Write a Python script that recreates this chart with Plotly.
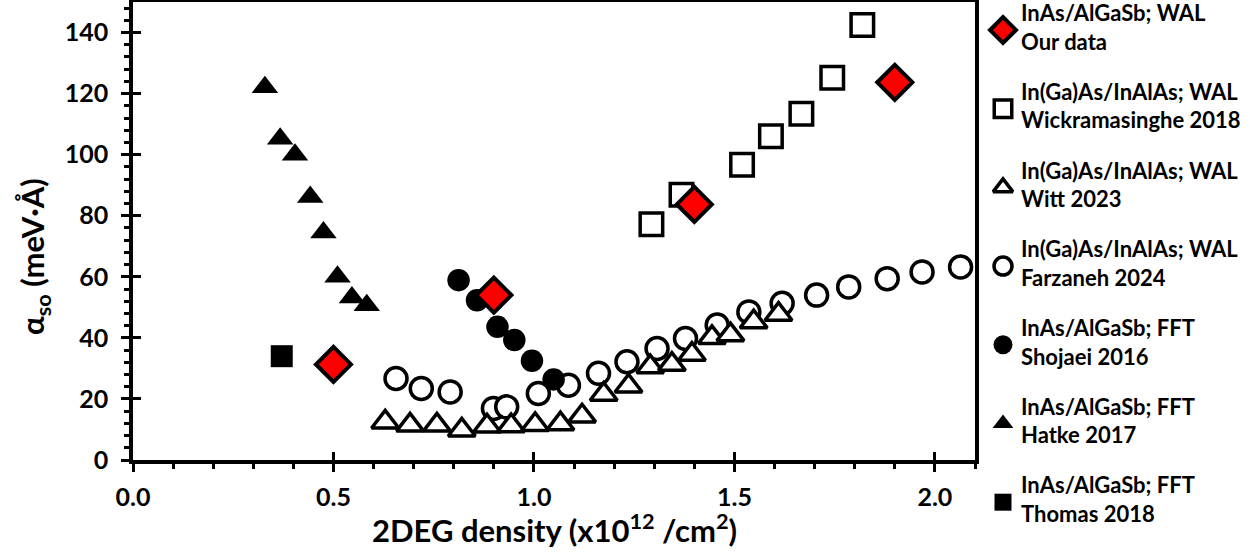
import plotly.graph_objects as go

# ---------------- data ----------------
our_x = [0.50, 0.90, 1.40, 1.90]
our_y = [31.3, 54.0, 83.7, 123.7]

wick_x = [1.293, 1.368, 1.519, 1.591, 1.667, 1.744, 1.819]
wick_y = [77.2, 86.9, 96.7, 106.0, 113.4, 125.2, 142.5]

witt_x = [0.629, 0.691, 0.758, 0.820, 0.883, 0.943, 1.003, 1.066, 1.120,
          1.174, 1.236, 1.290, 1.344, 1.394, 1.444, 1.490, 1.548, 1.610]
witt_y = [12.4, 11.4, 11.4, 9.8, 11.1, 11.2, 11.6, 11.8, 14.4,
          21.5, 24.2, 30.5, 31.3, 34.6, 40.1, 41.0, 45.2, 47.7]

farz_x = [0.656, 0.719, 0.791, 0.899, 0.932, 1.011, 1.086, 1.161, 1.232, 1.307,
          1.378, 1.457, 1.536, 1.619, 1.705, 1.785, 1.881, 1.968, 2.064]
farz_y = [26.7, 23.4, 22.3, 16.9, 17.4, 21.8, 24.5, 28.4, 32.2, 36.5,
          39.8, 44.2, 48.5, 51.3, 54.0, 56.7, 59.4, 61.6, 63.2]

shoj_x = [0.812, 0.858, 0.909, 0.951, 0.995, 1.049]
shoj_y = [58.9, 52.3, 43.6, 39.3, 32.5, 26.4]

hatke_x = [0.329, 0.367, 0.404, 0.442, 0.475, 0.510, 0.546, 0.583]
hatke_y = [122.1, 105.2, 100.0, 86.1, 74.5, 60.0, 53.2, 50.7]

thomas_x = [0.371]
thomas_y = [34.0]

legend_labels = [
    "InAs/AlGaSb; WAL<br>Our data",
    "In(Ga)As/InAlAs; WAL<br>Wickramasinghe 2018",
    "In(Ga)As/InAlAs; WAL<br>Witt 2023",
    "In(Ga)As/InAlAs; WAL<br>Farzaneh 2024",
    "InAs/AlGaSb; FFT<br>Shojaei 2016",
    "InAs/AlGaSb; FFT<br>Hatke 2017",
    "InAs/AlGaSb; FFT<br>Thomas 2018",
]

x_tickvals = [0.0, 0.5, 1.0, 1.5, 2.0]
x_ticktext = ["0.0", "0.5", "1.0", "1.5", "2.0"]
y_tickvals = [0, 20, 40, 60, 80, 100, 120, 140]

# ---------------- layout geometry ----------------
W, H = 1250, 560
ML, MR, MT, MB = 133, 5, 2, 30
PW = W - ML - MR
PH = H - MT - MB
plot_right = 975
plot_bottom = 460
xdom_main = [0, (plot_right - ML) / PW]
ydom_main = [(H - MB - plot_bottom) / PH, 1]
leg_left = 978
xdom_leg = [(leg_left - ML) / PW, 1]

FONT = "Lato"
LW = 3.5

styles = [
    dict(symbol="diamond", color="#ff0000", line=dict(color="black", width=4)),
    dict(symbol="square", color="white", line=dict(color="black", width=LW)),
    dict(symbol="triangle-up", color="white", line=dict(color="black", width=LW)),
    dict(symbol="circle", color="white", line=dict(color="black", width=LW)),
    dict(symbol="circle", color="black", line=dict(color="black", width=0)),
    dict(symbol="triangle-up", color="black", line=dict(color="black", width=0)),
    dict(symbol="square", color="black", line=dict(color="black", width=0)),
]
plot_sizes = [27, 22.5, 23.5, 22, 22.5, 23, 22]
leg_sizes = [20, 17.5, 17, 18, 19, 18, 17]

series = [
    (our_x, our_y), (wick_x, wick_y), (witt_x, witt_y), (farz_x, farz_y),
    (shoj_x, shoj_y), (hatke_x, hatke_y), (thomas_x, thomas_y),
]
draw_order = [3, 2, 4, 5, 6, 1, 0]

fig = go.Figure()
for i in draw_order:
    sx, sy = series[i]
    st = styles[i]
    fig.add_trace(go.Scatter(
        x=sx, y=sy, mode="markers", showlegend=False,
        name=legend_labels[i].replace("<br>", " "),
        marker=dict(symbol=st["symbol"], color=st["color"], size=plot_sizes[i],
                    line=st["line"]),
        xaxis="x", yaxis="y", cliponaxis=False,
    ))

# custom legend (markers + labels) on a hidden helper axis
leg_y0, leg_dy = 30, 78.7
for i, lab in enumerate(legend_labels):
    st = styles[i]
    fig.add_trace(go.Scatter(
        x=[1003], y=[leg_y0 + i * leg_dy], mode="markers", showlegend=False,
        marker=dict(symbol=st["symbol"], color=st["color"], size=leg_sizes[i],
                    line=st["line"]),
        xaxis="x2", yaxis="y2", hoverinfo="skip", cliponaxis=False,
    ))
    fig.add_trace(go.Scatter(
        x=[1021], y=[leg_y0 + i * leg_dy], mode="text", text=[lab],
        textposition="middle right", showlegend=False,
        textfont=dict(family=FONT, size=22, color="black", weight="bold"),
        xaxis="x2", yaxis="y2", hoverinfo="skip", cliponaxis=False,
    ))

# empty trace to activate the overlay axes used for inward major ticks
fig.add_trace(go.Scatter(x=[], y=[], xaxis="x3", yaxis="y3", showlegend=False))

tickfont = dict(family=FONT, size=25, color="black", weight="bold")

fig.update_layout(
    template="none",
    width=W, height=H,
    margin=dict(l=ML, r=MR, t=MT, b=MB, autoexpand=False),
    paper_bgcolor="white", plot_bgcolor="rgba(0,0,0,0)",
    showlegend=False,
    xaxis=dict(
        domain=xdom_main, range=[0, 2.1], anchor="y", automargin=False,
        showgrid=False, zeroline=False,
        showline=True, linecolor="black", linewidth=LW, mirror=True,
        ticks="outside", ticklen=8, tickwidth=3, tickcolor="black",
        tickvals=x_tickvals, ticktext=x_ticktext, tickfont=tickfont,
        ticklabelstandoff=4,
        minor=dict(dtick=0.1, ticks="outside", ticklen=5, tickwidth=3,
                   tickcolor="black", showgrid=False),
    ),
    yaxis=dict(
        domain=ydom_main, range=[0, 150], anchor="x", automargin=False,
        showgrid=False, zeroline=False,
        showline=True, linecolor="black", linewidth=LW, mirror=True,
        ticks="outside", ticklen=8, tickwidth=3, tickcolor="black",
        tickvals=y_tickvals, tickfont=tickfont, ticklabelstandoff=8,
        minor=dict(dtick=4, ticks="outside", ticklen=5, tickwidth=3,
                   tickcolor="black", showgrid=False),
    ),
    xaxis3=dict(
        overlaying="x", range=[0, 2.1], anchor="y3", side="bottom",
        automargin=False,
        showgrid=False, zeroline=False, showline=False,
        ticks="inside", ticklen=8, tickwidth=3, tickcolor="black",
        tickvals=x_tickvals, showticklabels=False,
    ),
    yaxis3=dict(
        overlaying="y", range=[0, 150], anchor="x3", side="left",
        automargin=False,
        showgrid=False, zeroline=False, showline=False,
        ticks="inside", ticklen=8, tickwidth=3, tickcolor="black",
        tickvals=y_tickvals, showticklabels=False,
    ),
    xaxis2=dict(domain=xdom_leg, range=[leg_left, W - MR], visible=False,
                anchor="y2", fixedrange=True, automargin=False),
    yaxis2=dict(domain=[0, 1], range=[H - MB, MT], visible=False,
                anchor="x2", fixedrange=True, automargin=False),
    annotations=[
        dict(text="2DEG density (x10<sup>12</sup> /cm<sup>2</sup>)",
             xref="paper", yref="paper",
             x=(554 - ML) / PW, y=(H - MB - 528) / PH,
             xanchor="center", yanchor="middle", showarrow=False,
             font=dict(family=FONT, size=31, color="black", weight="bold")),
        dict(text="α<sub>so</sub> (meV·Å)",
             xref="paper", yref="paper", textangle=-90,
             x=(34 - ML) / PW, y=(H - MB - 257) / PH,
             xanchor="center", yanchor="middle", showarrow=False,
             font=dict(family=FONT, size=31, color="black", weight="bold")),
    ],
)

fig.write_html(
    "out.html",
    config={"displayModeBar": False},
    post_script="document.body.style.margin='0px';document.body.style.overflow='hidden';",
)
